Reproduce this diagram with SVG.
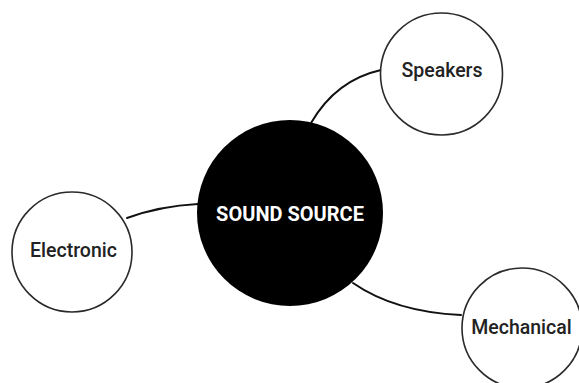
<svg xmlns="http://www.w3.org/2000/svg" width="579" height="383" viewBox="0 0 579 383">
<style>
.conn{fill:none;stroke:#111;stroke-width:2;stroke-linecap:round}
.leaf{fill:#fff;stroke:#2a2a2a;stroke-width:1.6}
.lbl{font-family:Roboto,"Liberation Sans",Arial,sans-serif;font-weight:500;font-size:19.5px;fill:#222;text-anchor:middle}
.core{font-family:Roboto,"Liberation Sans",Arial,sans-serif;font-weight:700;font-size:20px;fill:#fff;text-anchor:middle}
</style>
<rect width="579" height="383" fill="#fff"/>
<g id="connectors">
<path class="conn" d="M311,123 Q336,80 381,70"/>
<path class="conn" d="M127,218 Q160,206 198,204"/>
<path class="conn" d="M353,283 Q395,312 461,315"/>
</g>
<g id="sound-source">
<circle cx="290" cy="213" r="93" fill="#000"/>
<text class="core" x="290" y="221">SOUND SOURCE</text>
</g>
<g id="speakers">
<circle class="leaf" cx="441.5" cy="74" r="61"/>
<text class="lbl" x="442" y="77">Speakers</text>
</g>
<g id="electronic">
<circle class="leaf" cx="72" cy="252" r="60"/>
<text class="lbl" x="73.5" y="257">Electronic</text>
</g>
<g id="mechanical">
<circle class="leaf" cx="522" cy="328" r="60"/>
<text class="lbl" x="521.5" y="334">Mechanical</text>
</g>
</svg>
